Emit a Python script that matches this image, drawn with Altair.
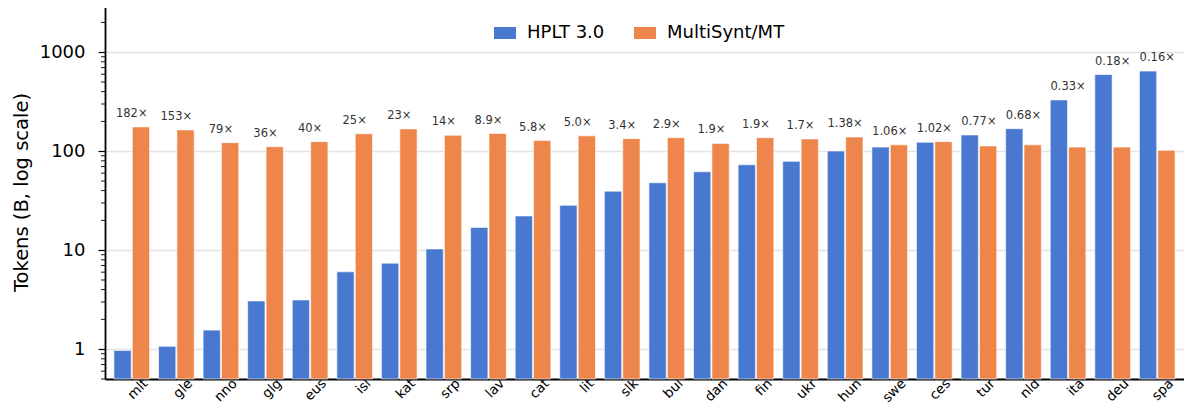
import altair as alt
import pandas as pd

langs = ["mlt", "gle", "nno", "glg", "eus", "isl", "kat", "srp", "lav", "cat", "lit", "slk",
         "bul", "dan", "fin", "ukr", "hun", "swe", "ces", "tur", "nld", "ita", "deu", "spa"]
hplt = [0.97, 1.07, 1.56, 3.07, 3.14, 6.05, 7.4, 10.3, 17.0, 22.2, 28.4, 39.5,
        48.0, 62.0, 73.0, 79.0, 100.5, 110.0, 123.0, 146.0, 169.0, 330.0, 595.0, 645.0]
multisynt = [176, 164, 122, 111, 125, 150, 168, 145, 151, 128, 143, 134,
             137, 120, 137, 133, 139, 116, 125, 113, 116, 110, 110, 102]
ratio_labels = ["182×", "153×", "79×", "36×", "40×", "25×", "23×", "14×", "8.9×", "5.8×",
                "5.0×", "3.4×", "2.9×", "1.9×", "1.9×", "1.7×", "1.38×", "1.06×", "1.02×",
                "0.77×", "0.68×", "0.33×", "0.18×", "0.16×"]
series = ["HPLT 3.0", "MultiSynt/MT"]
colors = ["#4878d0", "#ee854a"]
major_ticks = [1, 10, 100, 1000]
minor_ticks = [0.5, 0.6, 0.7, 0.8, 0.9,
               2, 3, 4, 5, 6, 7, 8, 9,
               20, 30, 40, 50, 60, 70, 80, 90,
               200, 300, 400, 500, 600, 700, 800, 900,
               2000, 3000]
y_domain = [0.5, 3000]

long_df = pd.DataFrame({
    "lang": langs + langs,
    "source": [series[0]] * len(langs) + [series[1]] * len(langs),
    "tokens": hplt + multisynt,
})
label_df = pd.DataFrame({"lang": langs, "top": [max(a, b) for a, b in zip(hplt, multisynt)],
                         "ratio": ratio_labels})
minor_df = pd.DataFrame({"v": minor_ticks})

yscale = alt.Scale(type="log", domain=y_domain, nice=False)
xscale = alt.Scale(domain=langs, paddingInner=0.2, paddingOuter=0.2)

x_axis = alt.Axis(labelAngle=-45, labelAlign="right", labelBaseline="middle",
                  labelFontSize=13.5, labelColor="black", labelOffset=14,
                  labelPadding=2, ticks=False, tickSize=0, domainColor="black",
                  domainWidth=1.8, grid=False, title=None, labelOverlap=False)
y_axis = alt.Axis(values=major_ticks, format="d", title="Tokens (B, log scale)",
                  labelFontSize=18, labelColor="black", labelPadding=13,
                  tickColor="black", tickSize=7, tickWidth=1.2,
                  grid=True, gridColor="#e3e3e3", gridWidth=1.5,
                  domainColor="black", domainWidth=1.8,
                  titleFontSize=19.5, titleFontWeight="normal", titleColor="black",
                  titlePadding=8)

bars = alt.Chart(long_df).mark_bar(
    stroke="white", strokeWidth=1, strokeOpacity=0.6
).encode(
    x=alt.X("lang:N", sort=langs, scale=xscale, axis=x_axis),
    xOffset=alt.XOffset("source:N", sort=series, scale=alt.Scale(paddingInner=0.06)),
    y=alt.Y("tokens:Q", scale=yscale, axis=y_axis),
    y2=alt.datum(0.5),
    color=alt.Color("source:N", sort=series, scale=alt.Scale(domain=series, range=colors),
                    legend=alt.Legend(title=None, orient="none", direction="horizontal",
                                      legendX=389, legendY=17, padding=0,
                                      symbolType="M -1 -0.545 H 1 V 0.545 H -1 Z",
                                      symbolSize=484, symbolStrokeWidth=0, symbolOpacity=1,
                                      labelFontSize=18, labelColor="black", labelOffset=11,
                                      columnPadding=29, labelLimit=300)),
)

minor = alt.Chart(minor_df).mark_rule(color="black", strokeWidth=0.9).encode(
    y=alt.Y("v:Q", scale=yscale, axis=y_axis),
    x=alt.value(-4),
    x2=alt.value(0),
)

labels = alt.Chart(label_df).mark_text(
    fontSize=11.5, color="#333333", baseline="alphabetic", dy=-10
).encode(
    x=alt.X("lang:N", sort=langs, scale=xscale, axis=x_axis),
    y=alt.Y("top:Q", scale=yscale, axis=y_axis),
    text="ratio:N",
)

chart = alt.layer(bars, minor, labels).properties(
    width=1079, height=374,
    autosize=alt.AutoSizeParams(type="none"),
    padding={"left": 97, "right": 0, "top": -3, "bottom": 25},
).configure(font="DejaVu Sans").configure_view(stroke=None)

chart.save("out.html", embed_options={"renderer": "svg", "actions": False})
